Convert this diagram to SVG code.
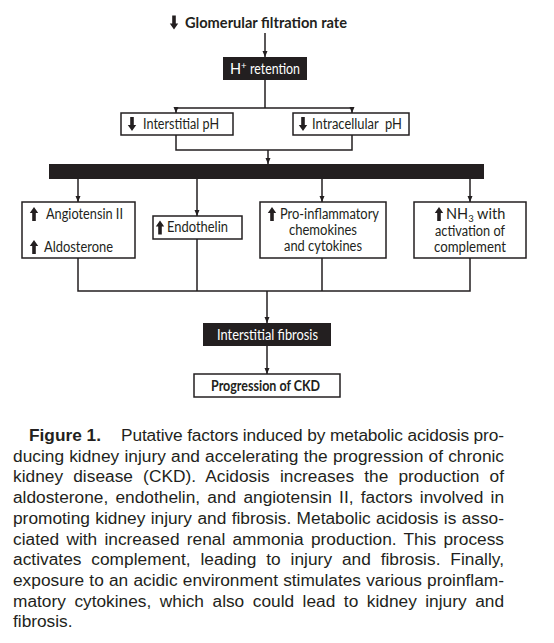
<svg xmlns="http://www.w3.org/2000/svg" xmlns:xlink="http://www.w3.org/1999/xlink" width="554" height="643" viewBox="0 0 554 643">
<style>
.lbl{font-family:Lato,"Open Sans","Liberation Sans",sans-serif;font-size:14.5px;fill:#231f20}
.wh{fill:#ffffff}
.box{fill:#ffffff;stroke:#231f20;stroke-width:1.5}
.dark{fill:#231f20}
.con{fill:none;stroke:#231f20;stroke-width:1.5}
.cap{font-family:"Liberation Sans",Arial,Helvetica,sans-serif;font-size:17.3px;fill:#231f20}
</style>
<defs>
<marker id="ah" markerUnits="userSpaceOnUse" markerWidth="6" markerHeight="6" refX="6" refY="3" orient="auto">
<path d="M0,0.5 L6,3 L0,5.5 z" fill="#231f20"/>
</marker>
<path id="dn" d="M-1.8,-7 h3.6 v8 h2.4 l-4.2,6 l-4.2,-6 h2.4 z" fill="#231f20"/>
<path id="up" d="M-1.8,7 h3.6 v-8 h2.4 l-4.2,-6 l-4.2,6 h2.4 z" fill="#231f20"/>
</defs>
<rect width="554" height="643" fill="#ffffff"/>

<g id="connectors">
<path class="con" d="M265,33 V57" marker-end="url(#ah)"/>
<path class="con" d="M265,80 V108 M176,108 H352"/>
<path class="con" d="M176,108 V113" marker-end="url(#ah)"/>
<path class="con" d="M352,108 V113" marker-end="url(#ah)"/>
<path class="con" d="M176,135 V150 H352 V135"/>
<path class="con" d="M268,150 V164" marker-end="url(#ah)"/>
<path class="con" d="M78,179 V202" marker-end="url(#ah)"/>
<path class="con" d="M197,179 V216" marker-end="url(#ah)"/>
<path class="con" d="M322,179 V202" marker-end="url(#ah)"/>
<path class="con" d="M470,179 V202" marker-end="url(#ah)"/>
<path class="con" d="M78,258 V291 H470 V258 M197,239 V291 M322,258 V291"/>
<path class="con" d="M267,291 V323" marker-end="url(#ah)"/>
<path class="con" d="M267,346 V374" marker-end="url(#ah)"/>
</g>

<g id="gfr">
<use xlink:href="#dn" x="174" y="22.5"/>
<text class="lbl" x="185" y="28" font-weight="bold" font-size="16" textLength="162" lengthAdjust="spacingAndGlyphs">Glomerular filtration rate</text>
</g>

<g id="h-retention">
<rect class="dark" x="223" y="57" width="84" height="23"/>
<text class="lbl wh" x="230" y="73.5">H<tspan font-size="9.5" dy="-5">+</tspan></text>
<text class="lbl wh" x="250" y="73.5" textLength="50" lengthAdjust="spacingAndGlyphs">retention</text>
</g>

<g id="interstitial-ph">
<rect class="box" x="121" y="113" width="112" height="22"/>
<use xlink:href="#dn" x="132" y="124"/>
<text class="lbl" x="143" y="129" textLength="76" lengthAdjust="spacingAndGlyphs">Interstitial pH</text>
</g>

<g id="intracellular-ph">
<rect class="box" x="293" y="113" width="116" height="22"/>
<use xlink:href="#dn" x="303" y="124"/>
<text class="lbl" x="312" y="129" xml:space="preserve" textLength="90" lengthAdjust="spacingAndGlyphs">Intracellular  pH</text>
</g>

<g id="bar">
<rect class="dark" x="49" y="164" width="435" height="15"/>
</g>

<g id="angiotensin-aldosterone">
<rect class="box" x="22" y="202" width="113" height="56"/>
<use xlink:href="#up" x="34" y="214"/>
<text class="lbl" x="46" y="219" textLength="77" lengthAdjust="spacingAndGlyphs">Angiotensin II</text>
<use xlink:href="#up" x="34" y="247"/>
<text class="lbl" x="44" y="252" textLength="69" lengthAdjust="spacingAndGlyphs">Aldosterone</text>
</g>

<g id="endothelin">
<rect class="box" x="153" y="216" width="89" height="23"/>
<use xlink:href="#up" x="160" y="227.5"/>
<text class="lbl" x="167" y="232" textLength="61" lengthAdjust="spacingAndGlyphs">Endothelin</text>
</g>

<g id="pro-inflammatory">
<rect class="box" x="260" y="202" width="126" height="56"/>
<use xlink:href="#up" x="272" y="214"/>
<text class="lbl" x="280" y="219" textLength="99" lengthAdjust="spacingAndGlyphs">Pro-inflammatory</text>
<text class="lbl" x="323" y="235" text-anchor="middle" textLength="68" lengthAdjust="spacingAndGlyphs">chemokines</text>
<text class="lbl" x="323" y="251" text-anchor="middle" textLength="78" lengthAdjust="spacingAndGlyphs">and cytokines</text>
</g>

<g id="nh3">
<rect class="box" x="414" y="202" width="112" height="56"/>
<use xlink:href="#up" x="439" y="214"/>
<text class="lbl" x="446" y="219">NH<tspan font-size="9.5" dy="2.5">3</tspan><tspan dy="-2.5"> with</tspan></text>
<text class="lbl" x="470" y="236" text-anchor="middle" textLength="70" lengthAdjust="spacingAndGlyphs">activation of</text>
<text class="lbl" x="470" y="252" text-anchor="middle" textLength="72" lengthAdjust="spacingAndGlyphs">complement</text>
</g>

<g id="interstitial-fibrosis">
<rect class="dark" x="203" y="323" width="128" height="23"/>
<text class="lbl wh" x="217" y="340" textLength="101" lengthAdjust="spacingAndGlyphs">Interstitial fibrosis</text>
</g>

<g id="progression">
<rect class="box" x="194" y="374" width="146" height="23"/>
<text class="lbl" x="211" y="391" font-weight="bold" textLength="109" lengthAdjust="spacingAndGlyphs">Progression of CKD</text>
</g>

<g id="caption">
<text class="cap" x="29" y="441" font-weight="bold">Figure 1.</text>
<text class="cap" x="121" y="441" textLength="383" lengthAdjust="spacing">Putative factors induced by metabolic acidosis pro-</text>
<text class="cap" x="13" y="461.7" word-spacing="0.4" textLength="491" lengthAdjust="spacing">ducing kidney injury and accelerating the progression of chronic</text>
<text class="cap" x="13" y="482.4" word-spacing="5.3" textLength="491" lengthAdjust="spacing">kidney disease (CKD). Acidosis increases the production of</text>
<text class="cap" x="13" y="503.1" word-spacing="2.4" textLength="491" lengthAdjust="spacing">aldosterone, endothelin, and angiotensin II, factors involved in</text>
<text class="cap" x="13" y="523.8" word-spacing="0.56" textLength="491" lengthAdjust="spacing">promoting kidney injury and fibrosis. Metabolic acidosis is asso-</text>
<text class="cap" x="13" y="544.5" word-spacing="2.4" textLength="491" lengthAdjust="spacing">ciated with increased renal ammonia production. This process</text>
<text class="cap" x="13" y="565.2" word-spacing="5" textLength="491" lengthAdjust="spacing">activates complement, leading to injury and fibrosis. Finally,</text>
<text class="cap" x="13" y="585.9" word-spacing="0.38" textLength="491" lengthAdjust="spacing">exposure to an acidic environment stimulates various proinflam-</text>
<text class="cap" x="13" y="606.6" word-spacing="3.7" textLength="491" lengthAdjust="spacing">matory cytokines, which also could lead to kidney injury and</text>
<text class="cap" x="13" y="627.3">fibrosis.</text>
</g>
</svg>
